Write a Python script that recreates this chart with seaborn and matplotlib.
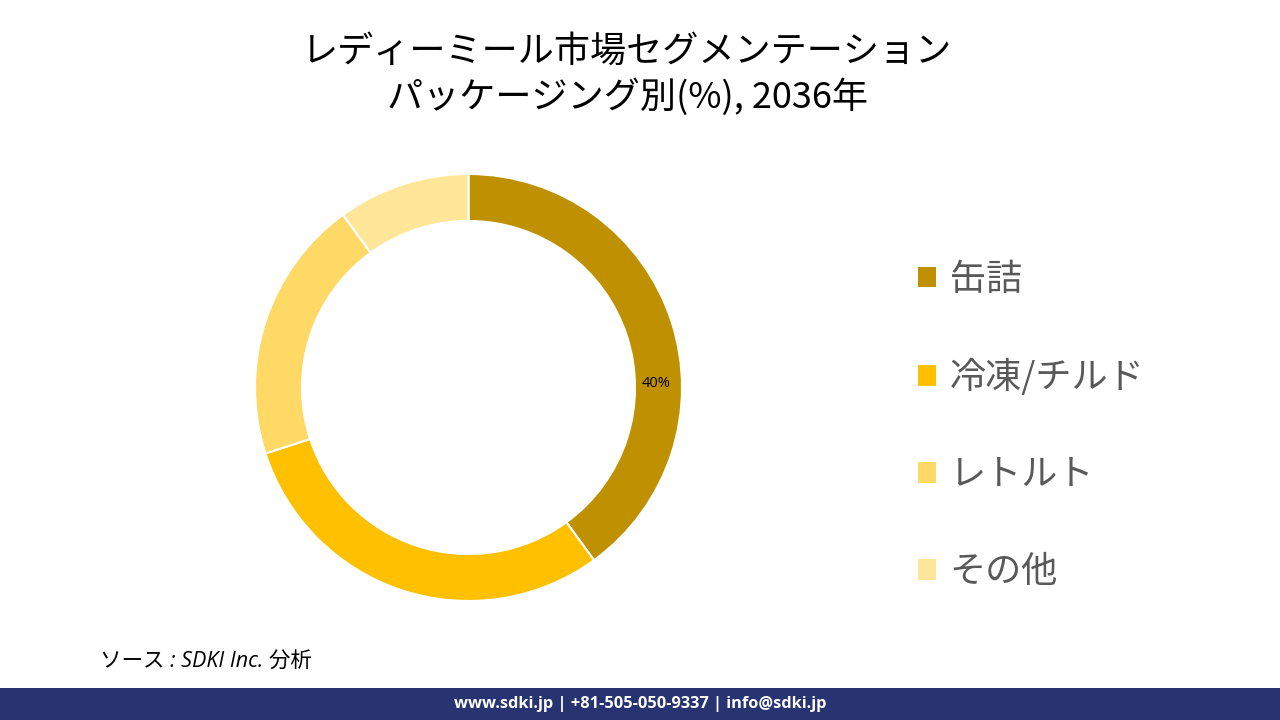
import matplotlib
matplotlib.use('Agg')
import matplotlib.pyplot as plt
from matplotlib.patches import Patch, Rectangle
import seaborn as sns

# data
categories = ['缶詰', '冷凍/チルド', 'レトルト', 'その他']
shares = [40, 30, 20, 10]
colors = ['#BF9000', '#FFC000', '#FFD966', '#FFE699']
title_text = 'レディーミール市場セグメンテーション\nパッケージング別(%), 2036年'
source_text = 'ソース : SDKI Inc. 分析'
footer_text = 'www.sdki.jp | +81-505-050-9337 | info@sdki.jp'

sns.set_theme(style='white')
plt.rcParams['font.family'] = ['Noto Sans CJK JP', 'DejaVu Sans']

fig = plt.figure(figsize=(12.8, 7.2), dpi=100)
fig.patch.set_facecolor('white')

# donut, centre ~ (468, 388) px, radius ~214 px
ax = fig.add_axes([(468.5 - 213.5) / 1280, (720 - 387.5 - 213.5) / 720, 427 / 1280, 427 / 720])
wedges, texts, autotexts = ax.pie(
    shares, colors=colors, startangle=90, counterclock=False, radius=1,
    wedgeprops=dict(width=0.22, edgecolor='white', linewidth=1.5),
    autopct=lambda p: f'{p:.0f}%' if p > 35 else '', pctdistance=0.89,
    textprops=dict(fontsize=10.5, color='black', family=['Open Sans', 'DejaVu Sans']))
autotexts[0].set_position((0.878, 0.02))
ax.set_xlim(-1, 1)
ax.set_ylim(-1, 1)
ax.set_aspect('equal')
ax.axis('off')

fig.text(0.49, 1 - 75 / 720, title_text, ha='center', va='center', fontsize=26,
         color='black', linespacing=1.28)

handles = [Patch(facecolor=c, edgecolor='none') for c in colors]
leg = fig.legend(handles, categories, loc='center left', bbox_to_anchor=(0.703, 1 - 426 / 720),
                 frameon=False, fontsize=26, labelcolor='#595959', handlelength=0.5,
                 handleheight=0.5, handletextpad=0.38, labelspacing=1.69, borderpad=0)

fig.text(100 / 1280, 1 - 662 / 720, source_text, ha='left', va='center', fontsize=15.5,
         style='italic', family=['Open Sans', 'Noto Sans CJK JP'], color='black')

fig.patches.append(Rectangle((0, 0), 1, 32 / 720, transform=fig.transFigure,
                             facecolor='#283371', edgecolor='none', zorder=0))
fig.text(0.5, 16 / 720, footer_text, ha='center', va='center', fontsize=11.8,
         weight='bold', color='white', family=['Open Sans', 'DejaVu Sans'])

plt.savefig('out.png', dpi=100, facecolor='white')
